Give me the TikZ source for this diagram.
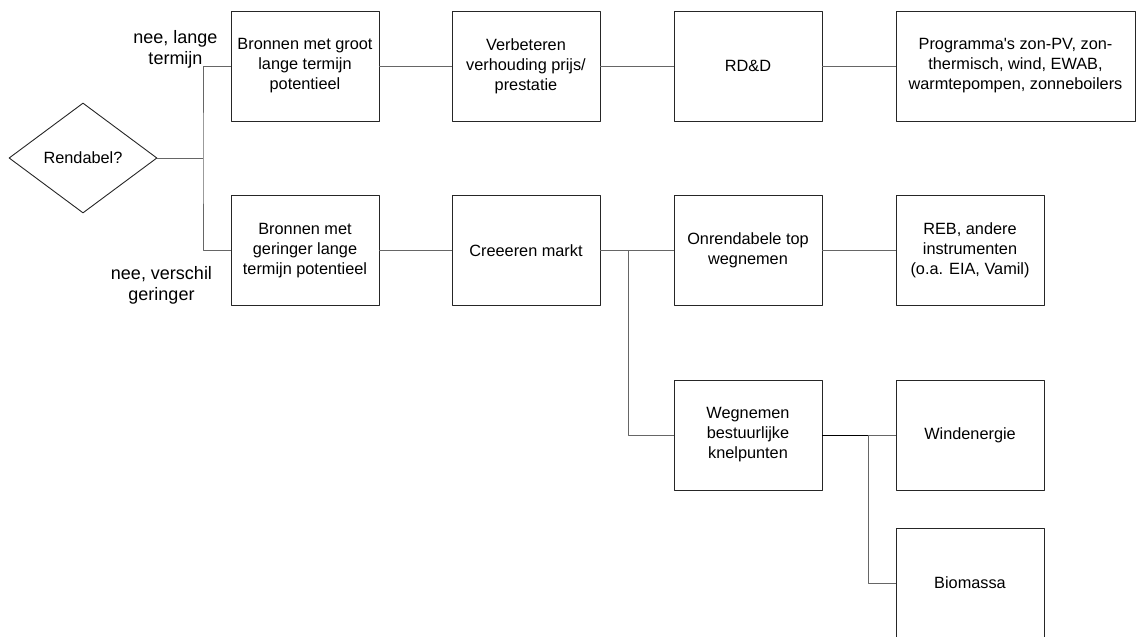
\documentclass[tikz,border=0pt]{standalone}
\usepackage{fontspec}
\setmainfont{Liberation Sans}
\usetikzlibrary{shapes.geometric,positioning}

\tikzset{
  blok/.style={draw=black!85, line width=0.9pt, minimum width=148pt, minimum height=110pt,
    inner sep=0pt, align=center, font=\fontsize{16.3}{20}\selectfont},
  keuze/.style={diamond, draw=black!85, line width=0.9pt, minimum width=148pt, minimum height=110pt,
    inner sep=0pt, font=\fontsize{16.3}{20}\selectfont},
  lijn/.style={draw=black!60, line width=1pt},
  tekst/.style={align=center, font=\fontsize{18}{21}\selectfont}
}

\begin{document}
\begin{tikzpicture}[x=1pt,y=-1pt,line join=round]
		\useasboundingbox (0,0) rectangle (1136,637);
		% beslissing
		\node[keuze] (rend) at (83,158) {Rendabel?};
		% bovenste rij
		\node[blok] (groot) at (305,66) {Bronnen met groot\\lange termijn\\potentieel};
		\node[blok] (verb) at (526,66) {Verbeteren\\verhouding prijs/\\prestatie};
		\node[blok] (rdd) at (748,66) {RD\&D};
		\node[blok,minimum width=239pt] (prog) at (1015.5,66) {Programma\textquotesingle s zon-PV, zon-\\thermisch, wind, EWAB,\\warmtepompen, zonneboilers};
		% middelste rij
		\node[blok] (gering) at (305,250.5) {Bronnen met\\geringer lange\\termijn potentieel};
		\node[blok] (markt) at (526,250.5) {Creeeren markt};
		\node[blok] (onr) at (748,250.5) {Onrendabele top\\wegnemen};
		\node[blok] (reb) at (970,250.5) {REB, andere\\instrumenten\\(o.a. EIA, Vamil)};
		% onderste rijen
		\node[blok] (wegn) at (748,435) {Wegnemen\\bestuurlijke\\knelpunten};
		\node[blok] (wind) at (970,435) {Windenergie};
		\node[blok] (bio) at (970,583) {Biomassa};
		% antwoorden
		\node[tekst] (lang) at (175.5,49) {nee, lange\\termijn};
		\node[tekst] (versch) at (161.5,285) {nee, verschil\\geringer};
		% verbindingen
		\coordinate (tak) at (203,158);
		\coordinate (tak2) at (628,250.5);
		\coordinate (tak3) at (868,435);
		\draw[lijn] (rend.east) -- (tak) (groot.west) -| (tak) |- (gering.west);
		\draw[lijn] (groot) -- (verb) (verb) -- (rdd) (rdd) -- (prog);
		\draw[lijn] (gering) -- (markt) (markt) -- (onr) (onr) -- (reb);
		\draw[lijn] (tak2) |- (wegn.west);
		\draw[lijn,draw=black] (wegn.east) -- (tak3);
		\draw[lijn] (tak3) -- (wind.west) (tak3) |- (bio.west);
\end{tikzpicture}
\end{document}
